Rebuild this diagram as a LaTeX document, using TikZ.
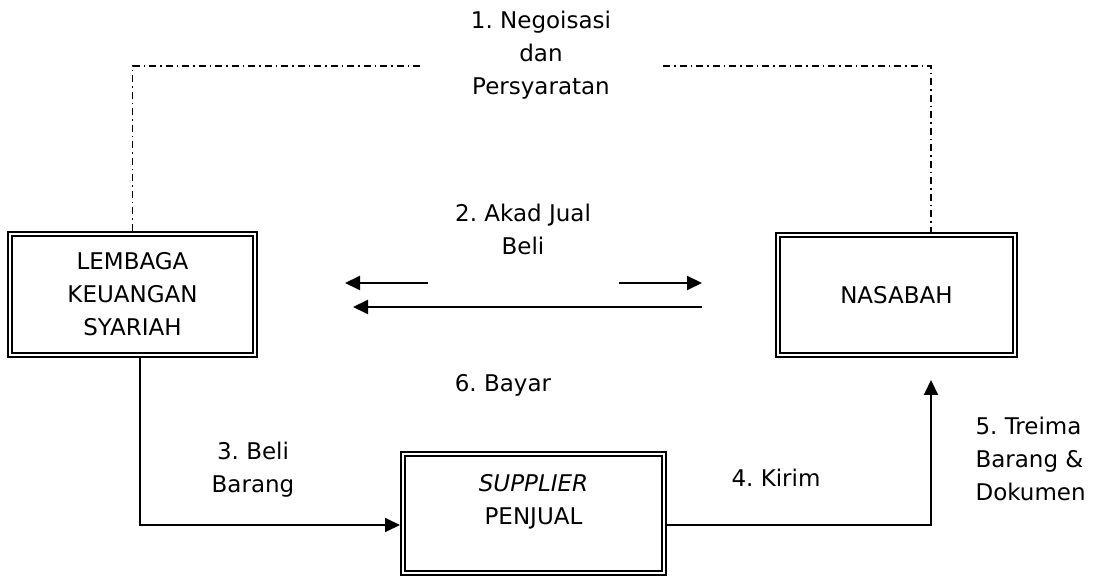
\documentclass[tikz,border=0pt]{standalone}
\usepackage{fontspec}
\setmainfont{DejaVu Sans}
\frenchspacing
\usetikzlibrary{arrows.meta, positioning, calc}

\begin{document}
\begin{tikzpicture}[
x=1pt, y=-1pt,
every node/.style={font=\fontsize{23}{33}\selectfont, align=center},
box/.style={draw, rectangle, line width=2pt, double, double distance=2pt, outer sep=3pt},
flow/.style={line width=2pt, -{Triangle[length=15pt, width=14pt]}},
deal/.style={line width=1.5pt, dash pattern=on 7pt off 4pt on 1.5pt off 4pt}
]
\useasboundingbox (0,0) rectangle (1101,577);

\node[box, minimum width=245pt, minimum height=121pt] (lembaga) at (132.5,294.5)
{LEMBAGA\\KEUANGAN\\SYARIAH};

\node[box, minimum width=237pt, minimum height=120pt] (nasabah) at (896.5,295) {NASABAH};

\node[box, minimum width=261pt, minimum height=119pt] (supplier) at (533.5,513.5) {};
\node[below=20pt of supplier.north] (penjual) {\textit{SUPPLIER}\\PENJUAL};

\node (negosiasi) at (541,55) {1. Negoisasi\\dan\\Persyaratan};
\node (akad) at (523,229) {2. Akad Jual\\Beli};
\node (bayar) at (503,385) {6. Bayar};
\node (beli) at (253,470) {3. Beli\\Barang};
\node (kirim) at (776,478) {4. Kirim};
\node[anchor=west, align=left] (terima) at (972,459) {5. Treima\\Barang \&\\Dokumen};

\coordinate (negL) at (420,66);
\coordinate (negR) at (663,66);
\coordinate (akadL) at (428,283);
\coordinate (akadLtip) at (345,283);
\coordinate (akadR) at (619,283);
\coordinate (akadRtip) at (702,283);
\coordinate (bayarR) at (702,307);
\coordinate (bayarL) at (353,307);
\coordinate (belibend) at (140,525);
\coordinate (kirimbend) at (931,525);
\coordinate (recv) at (931,380);

\draw[deal] (lembaga.north) |- (negL);
\draw[deal] (negR) -| (nasabah.north -| recv);

\draw[flow] (akadL) -- (akadLtip);
\draw[flow] (akadR) -- (akadRtip);
\draw[flow] (bayarR) -- (bayarL);

\draw[flow] (lembaga.south -| belibend) -- (belibend) -- (supplier.west |- belibend);
\draw[flow] (supplier.east |- kirimbend) -- (kirimbend) -- (recv);

\end{tikzpicture}
\end{document}
